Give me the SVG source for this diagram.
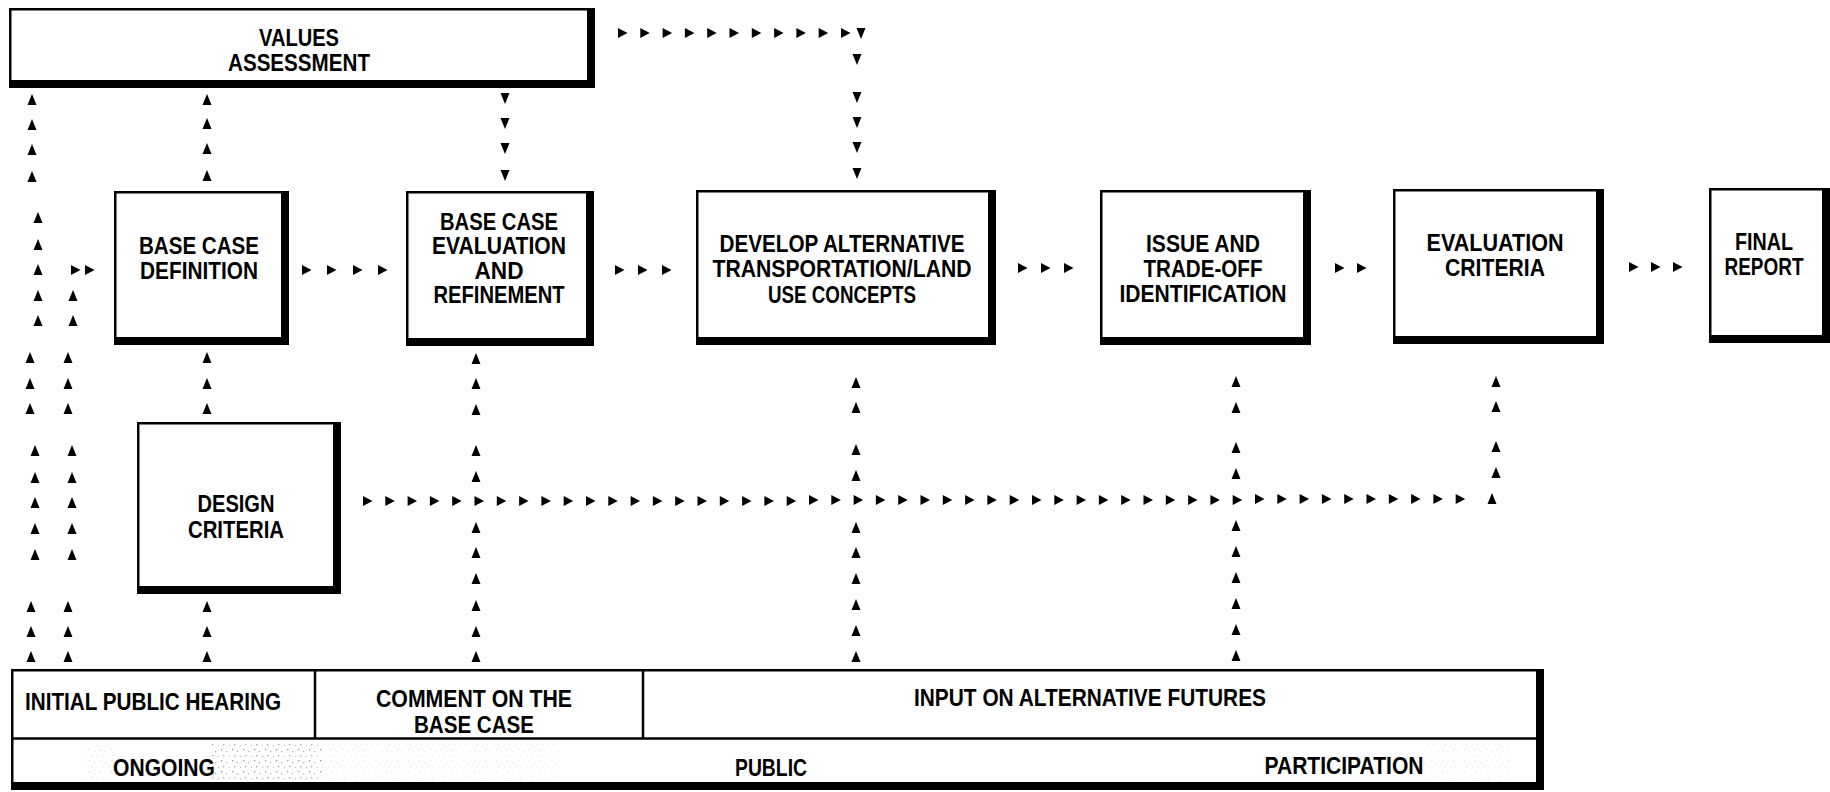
<svg xmlns="http://www.w3.org/2000/svg" width="1830" height="792" viewBox="0 0 1830 792">
<style>
.bk{fill:#000}
.wh{fill:#fff}
.ln{stroke:#000;stroke-width:2.5;fill:none}
text{font-family:"Liberation Sans",Arial,sans-serif;font-weight:bold;font-size:24px;fill:#000;text-anchor:middle}
.a{fill:#000}
</style>
<defs>
<path id="up" d="M0,-6 L4.5,5 L-4.5,5 Z"/>
<path id="rt" d="M5.5,0 L-4,-5 L-4,5 Z"/>
<path id="dn" d="M0,6 L4.5,-5 L-4.5,-5 Z"/>
<pattern id="stip" width="11" height="11" patternUnits="userSpaceOnUse">
<rect x="1" y="1" width="1.3" height="1.3" fill="#555"/>
<rect x="6" y="3" width="1.2" height="1.2" fill="#777"/>
<rect x="3" y="7" width="1.3" height="1.3" fill="#666"/>
<rect x="9" y="8" width="1" height="1" fill="#888"/>
</pattern>
</defs>
<rect width="1830" height="792" fill="#fff"/>

<g id="values-assessment">
<rect class="bk" x="9" y="8" width="586" height="80"/>
<rect class="wh" x="11.5" y="10.5" width="575.5" height="69.5"/>
<text x="299" y="46" textLength="80" lengthAdjust="spacingAndGlyphs">VALUES</text>
<text x="299" y="71" textLength="142" lengthAdjust="spacingAndGlyphs">ASSESSMENT</text>
</g>

<g id="base-case-definition">
<rect class="bk" x="114" y="191" width="175" height="154"/>
<rect class="wh" x="116.5" y="193.5" width="164.5" height="143.5"/>
<text x="199" y="254" textLength="120" lengthAdjust="spacingAndGlyphs">BASE CASE</text>
<text x="199" y="279" textLength="118" lengthAdjust="spacingAndGlyphs">DEFINITION</text>
</g>

<g id="base-case-evaluation">
<rect class="bk" x="406" y="191" width="188" height="155"/>
<rect class="wh" x="408.5" y="193.5" width="177.5" height="144.5"/>
<text x="499" y="230" textLength="118" lengthAdjust="spacingAndGlyphs">BASE CASE</text>
<text x="499" y="254" textLength="134" lengthAdjust="spacingAndGlyphs">EVALUATION</text>
<text x="499" y="279" textLength="49" lengthAdjust="spacingAndGlyphs">AND</text>
<text x="499" y="303" textLength="131" lengthAdjust="spacingAndGlyphs">REFINEMENT</text>
</g>

<g id="develop-alternative">
<rect class="bk" x="696" y="190" width="300" height="155"/>
<rect class="wh" x="698.5" y="192.5" width="289.5" height="144.5"/>
<text x="842" y="252" textLength="245" lengthAdjust="spacingAndGlyphs">DEVELOP ALTERNATIVE</text>
<text x="842" y="277" textLength="259" lengthAdjust="spacingAndGlyphs">TRANSPORTATION/LAND</text>
<text x="842" y="303" textLength="148" lengthAdjust="spacingAndGlyphs">USE CONCEPTS</text>
</g>

<g id="issue-tradeoff">
<rect class="bk" x="1100" y="190" width="211" height="155"/>
<rect class="wh" x="1102.5" y="192.5" width="200.5" height="144.5"/>
<text x="1203" y="252" textLength="114" lengthAdjust="spacingAndGlyphs">ISSUE AND</text>
<text x="1203" y="277" textLength="119" lengthAdjust="spacingAndGlyphs">TRADE-OFF</text>
<text x="1203" y="302" textLength="167" lengthAdjust="spacingAndGlyphs">IDENTIFICATION</text>
</g>

<g id="evaluation-criteria">
<rect class="bk" x="1393" y="189" width="211" height="155"/>
<rect class="wh" x="1395.5" y="191.5" width="200.5" height="144.5"/>
<text x="1495" y="251" textLength="137" lengthAdjust="spacingAndGlyphs">EVALUATION</text>
<text x="1495" y="276" textLength="100" lengthAdjust="spacingAndGlyphs">CRITERIA</text>
</g>

<g id="final-report">
<rect class="bk" x="1709" y="188" width="121" height="155"/>
<rect class="wh" x="1711.5" y="190.5" width="110.5" height="144.5"/>
<text x="1764" y="250" textLength="58" lengthAdjust="spacingAndGlyphs">FINAL</text>
<text x="1764" y="275" textLength="79" lengthAdjust="spacingAndGlyphs">REPORT</text>
</g>

<g id="design-criteria">
<rect class="bk" x="137" y="422" width="204" height="172"/>
<rect class="wh" x="139.5" y="424.5" width="193.5" height="161.5"/>
<text x="236" y="512" textLength="77" lengthAdjust="spacingAndGlyphs">DESIGN</text>
<text x="236" y="538" textLength="96" lengthAdjust="spacingAndGlyphs">CRITERIA</text>
</g>

<g id="public-participation">
<rect class="bk" x="11" y="669" width="1533" height="121"/>
<rect class="wh" x="13.5" y="671.5" width="1522.5" height="110.5"/>
<rect x="212" y="742" width="110" height="39" fill="url(#stip)" opacity="0.6"/>
<rect x="322" y="742" width="240" height="39" fill="url(#stip)" opacity="0.15"/>
<rect x="86" y="745" width="28" height="34" fill="url(#stip)" opacity="0.2"/>
<rect x="1425" y="744" width="85" height="36" fill="url(#stip)" opacity="0.15"/>
<line class="ln" x1="13" y1="738.5" x2="1537" y2="738.5"/>
<line class="ln" x1="315" y1="671" x2="315" y2="738"/>
<line class="ln" x1="643" y1="671" x2="643" y2="738"/>
<text x="153" y="710" textLength="256" lengthAdjust="spacingAndGlyphs">INITIAL PUBLIC HEARING</text>
<text x="474" y="707" textLength="196" lengthAdjust="spacingAndGlyphs">COMMENT ON THE</text>
<text x="474" y="733" textLength="120" lengthAdjust="spacingAndGlyphs">BASE CASE</text>
<text x="1090" y="706" textLength="352" lengthAdjust="spacingAndGlyphs">INPUT ON ALTERNATIVE FUTURES</text>
<text x="164" y="776" textLength="102" lengthAdjust="spacingAndGlyphs">ONGOING</text>
<text x="771" y="776" textLength="72" lengthAdjust="spacingAndGlyphs">PUBLIC</text>
<text x="1344" y="774" textLength="159" lengthAdjust="spacingAndGlyphs">PARTICIPATION</text>
</g>

<g id="connectors" class="a">
<use href="#rt" x="622" y="33"/><use href="#rt" x="644.3" y="33"/><use href="#rt" x="666.6" y="33"/><use href="#rt" x="688.9" y="33"/><use href="#rt" x="711.2" y="33"/><use href="#rt" x="733.5" y="33"/><use href="#rt" x="755.8" y="33"/><use href="#rt" x="778.1" y="33"/><use href="#rt" x="800.4" y="33"/><use href="#rt" x="822.7" y="33"/><use href="#rt" x="845" y="33"/>
<use href="#dn" x="861" y="33"/>
<use href="#dn" x="857" y="59"/><use href="#dn" x="857" y="97"/><use href="#dn" x="857" y="122"/><use href="#dn" x="857" y="147"/><use href="#dn" x="857" y="173"/>
<use href="#dn" x="505" y="98"/><use href="#dn" x="505" y="123"/><use href="#dn" x="505" y="148"/><use href="#dn" x="505" y="175"/>
<use href="#up" x="207" y="100"/><use href="#up" x="207" y="124"/><use href="#up" x="207" y="149"/><use href="#up" x="207" y="176"/>
<use href="#up" x="32" y="100"/><use href="#up" x="32" y="125"/><use href="#up" x="32" y="150"/><use href="#up" x="32" y="177"/>
<use href="#up" x="38" y="218"/><use href="#up" x="38" y="245"/><use href="#up" x="38" y="270"/><use href="#up" x="38" y="296"/><use href="#up" x="38" y="321"/>
<use href="#up" x="30" y="358"/><use href="#up" x="30" y="384"/><use href="#up" x="30" y="409"/>
<use href="#up" x="35" y="451"/><use href="#up" x="35" y="478"/><use href="#up" x="35" y="503"/><use href="#up" x="35" y="529"/><use href="#up" x="35" y="555"/>
<use href="#up" x="31" y="607"/><use href="#up" x="31" y="632"/><use href="#up" x="31" y="657"/>
<use href="#rt" x="75" y="270"/><use href="#rt" x="89" y="270"/>
<use href="#up" x="73" y="296"/><use href="#up" x="73" y="321"/>
<use href="#up" x="68" y="358"/><use href="#up" x="68" y="384"/><use href="#up" x="68" y="409"/>
<use href="#up" x="72" y="451"/><use href="#up" x="72" y="478"/><use href="#up" x="72" y="503"/><use href="#up" x="72" y="529"/><use href="#up" x="72" y="555"/>
<use href="#up" x="68" y="607"/><use href="#up" x="68" y="632"/><use href="#up" x="68" y="657"/>
<use href="#up" x="207" y="358"/><use href="#up" x="207" y="384"/><use href="#up" x="207" y="409"/>
<use href="#up" x="207" y="607"/><use href="#up" x="207" y="632"/><use href="#up" x="207" y="657"/>
<use href="#rt" x="306" y="270"/><use href="#rt" x="331" y="270"/><use href="#rt" x="357" y="270"/><use href="#rt" x="382" y="270"/>
<use href="#rt" x="619" y="270"/><use href="#rt" x="642" y="270"/><use href="#rt" x="666" y="270"/>
<use href="#rt" x="1022" y="268"/><use href="#rt" x="1045" y="268"/><use href="#rt" x="1068" y="268"/>
<use href="#rt" x="1339" y="268"/><use href="#rt" x="1361" y="268"/>
<use href="#rt" x="1633" y="267"/><use href="#rt" x="1655" y="267"/><use href="#rt" x="1677" y="267"/>
<use href="#up" x="476" y="359"/><use href="#up" x="476" y="384"/><use href="#up" x="476" y="410"/><use href="#up" x="476" y="451"/><use href="#up" x="476" y="477"/><use href="#up" x="476" y="528"/><use href="#up" x="476" y="553"/><use href="#up" x="476" y="579"/><use href="#up" x="476" y="606"/><use href="#up" x="476" y="632"/><use href="#up" x="476" y="657"/>
<use href="#up" x="856" y="383"/><use href="#up" x="856" y="408"/><use href="#up" x="856" y="450"/><use href="#up" x="856" y="476"/><use href="#up" x="856" y="528"/><use href="#up" x="856" y="553"/><use href="#up" x="856" y="579"/><use href="#up" x="856" y="605"/><use href="#up" x="856" y="631"/><use href="#up" x="856" y="657"/>
<use href="#up" x="1236" y="382"/><use href="#up" x="1236" y="408"/><use href="#up" x="1236" y="448"/><use href="#up" x="1236" y="474"/><use href="#up" x="1236" y="526"/><use href="#up" x="1236" y="552"/><use href="#up" x="1236" y="578"/><use href="#up" x="1236" y="604"/><use href="#up" x="1236" y="630"/><use href="#up" x="1236" y="656"/>
<use href="#up" x="1496" y="382"/><use href="#up" x="1496" y="407"/><use href="#up" x="1496" y="447"/><use href="#up" x="1496" y="473"/><use href="#up" x="1492" y="499"/>
<use href="#rt" x="367" y="501"/><use href="#rt" x="389.3" y="501"/><use href="#rt" x="411.6" y="501"/><use href="#rt" x="433.9" y="501"/><use href="#rt" x="456.2" y="501"/><use href="#rt" x="478.5" y="501"/><use href="#rt" x="500.8" y="501"/><use href="#rt" x="523.1" y="501"/><use href="#rt" x="545.4" y="501"/><use href="#rt" x="567.7" y="501"/>
<use href="#rt" x="590" y="501"/><use href="#rt" x="612.3" y="501"/><use href="#rt" x="634.6" y="501"/><use href="#rt" x="656.9" y="501"/><use href="#rt" x="679.2" y="501"/><use href="#rt" x="701.5" y="501"/><use href="#rt" x="723.8" y="501"/><use href="#rt" x="746.1" y="501"/><use href="#rt" x="768.4" y="501"/><use href="#rt" x="790.7" y="501"/>
<use href="#rt" x="813" y="500"/><use href="#rt" x="835.3" y="500"/><use href="#rt" x="857.6" y="500"/><use href="#rt" x="879.9" y="500"/><use href="#rt" x="902.2" y="500"/><use href="#rt" x="924.5" y="500"/><use href="#rt" x="946.8" y="500"/><use href="#rt" x="969.1" y="500"/><use href="#rt" x="991.4" y="500"/><use href="#rt" x="1013.7" y="500"/>
<use href="#rt" x="1036" y="500"/><use href="#rt" x="1058.3" y="500"/><use href="#rt" x="1080.6" y="500"/><use href="#rt" x="1102.9" y="500"/><use href="#rt" x="1125.2" y="500"/><use href="#rt" x="1147.5" y="500"/><use href="#rt" x="1169.8" y="500"/><use href="#rt" x="1192.1" y="500"/><use href="#rt" x="1214.4" y="500"/><use href="#rt" x="1236.7" y="500"/>
<use href="#rt" x="1259" y="499"/><use href="#rt" x="1281.3" y="499"/><use href="#rt" x="1303.6" y="499"/><use href="#rt" x="1325.9" y="499"/><use href="#rt" x="1348.2" y="499"/><use href="#rt" x="1370.5" y="499"/><use href="#rt" x="1392.8" y="499"/><use href="#rt" x="1415.1" y="499"/><use href="#rt" x="1437.4" y="499"/><use href="#rt" x="1459.7" y="499"/>
</g>
</svg>
